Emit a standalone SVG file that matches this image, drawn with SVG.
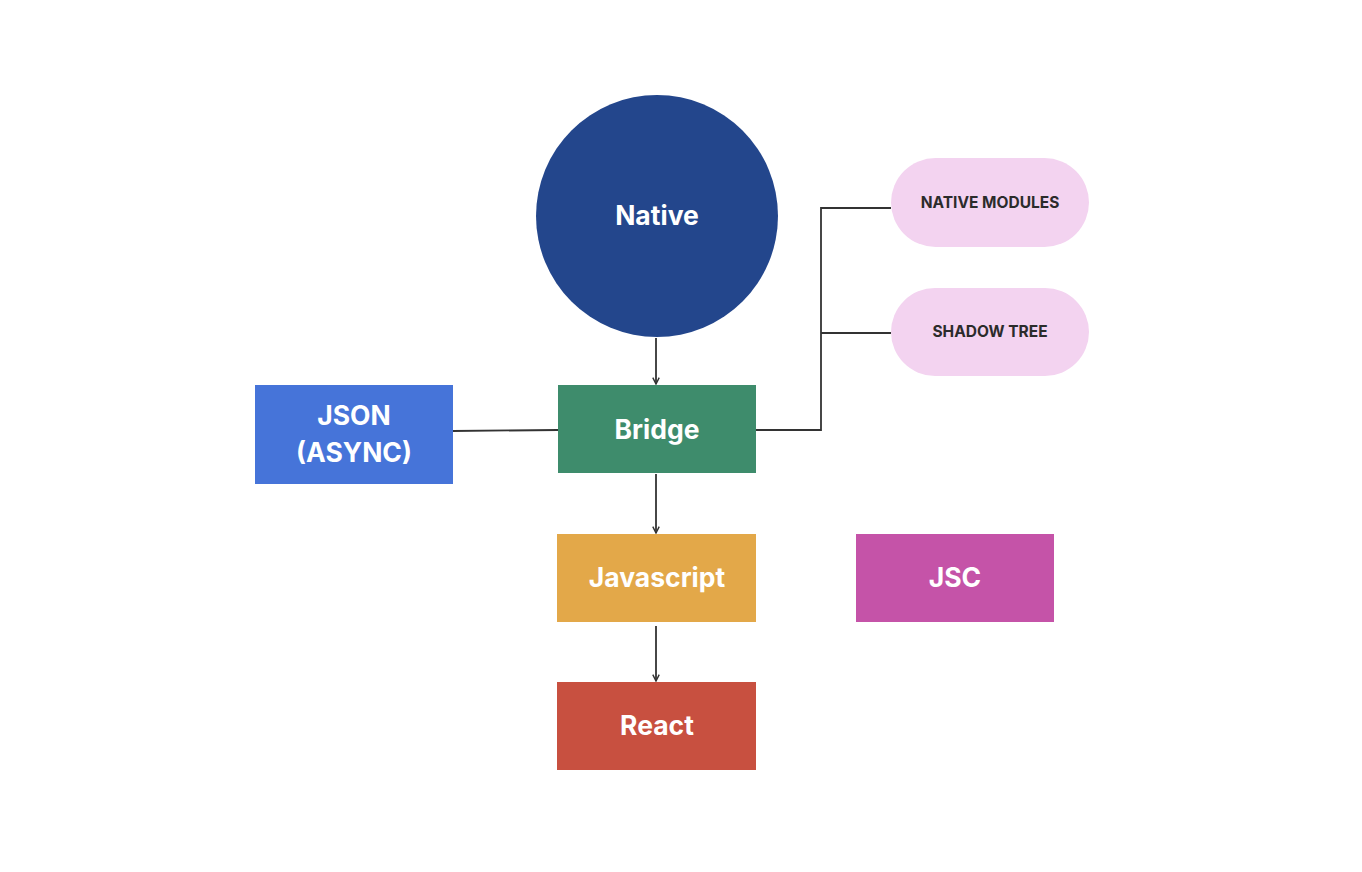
<svg xmlns="http://www.w3.org/2000/svg" width="1362" height="872" viewBox="0 0 1362 872">
<defs>
<style>
.lbl{font-family:Inter,"Liberation Sans",Arial,sans-serif;font-weight:700;font-size:26.5px;fill:#ffffff;text-anchor:middle}
.pl{font-family:Inter,"Liberation Sans",Arial,sans-serif;font-weight:700;font-size:15.5px;fill:#2b2b2b;text-anchor:middle}
.ln{fill:none;stroke:#333333;stroke-width:1.8}
.pill{fill:#f3d3f0}
</style>
<marker id="ah" viewBox="0 0 10 10" refX="9" refY="5" markerWidth="8" markerHeight="8" markerUnits="userSpaceOnUse" orient="auto">
<path d="M1,1 L9,5 L1,9" fill="none" stroke="#333333" stroke-width="1.8"/>
</marker>
</defs>
<rect width="1362" height="872" fill="#ffffff"/>
<g id="connectors">
<line class="ln" x1="656" y1="338" x2="656" y2="384" marker-end="url(#ah)"/>
<line class="ln" x1="656" y1="474" x2="656" y2="533" marker-end="url(#ah)"/>
<line class="ln" x1="656" y1="626" x2="656" y2="681" marker-end="url(#ah)"/>
<line class="ln" x1="453" y1="431" x2="558" y2="430"/>
<polyline class="ln" points="756,430 821,430 821,208 891,208"/>
<line class="ln" x1="821" y1="333" x2="891" y2="333"/>
</g>
<g id="native">
<circle cx="657" cy="216" r="121" fill="#23468c"/>
<text class="lbl" x="657" y="225">Native</text>
</g>
<g id="bridge">
<rect x="558" y="385" width="198" height="88" fill="#3e8c6c"/>
<text class="lbl" x="657" y="439">Bridge</text>
</g>
<g id="json">
<rect x="255" y="385" width="198" height="99" fill="#4674d9"/>
<text class="lbl" x="354" y="425">JSON</text>
<text class="lbl" x="354" y="462">(ASYNC)</text>
</g>
<g id="javascript">
<rect x="557" y="534" width="199" height="88" fill="#e3a849"/>
<text class="lbl" x="657" y="587">Javascript</text>
</g>
<g id="react">
<rect x="557" y="682" width="199" height="88" fill="#c85040"/>
<text class="lbl" x="657" y="735">React</text>
</g>
<g id="jsc">
<rect x="856" y="534" width="198" height="88" fill="#c553a8"/>
<text class="lbl" x="955" y="587">JSC</text>
</g>
<g id="native-modules">
<rect class="pill" x="891" y="158" width="198" height="89" rx="44.5"/>
<text class="pl" x="990" y="208">NATIVE MODULES</text>
</g>
<g id="shadow-tree">
<rect class="pill" x="891" y="288" width="198" height="88" rx="44"/>
<text class="pl" x="990" y="337">SHADOW TREE</text>
</g>
</svg>
